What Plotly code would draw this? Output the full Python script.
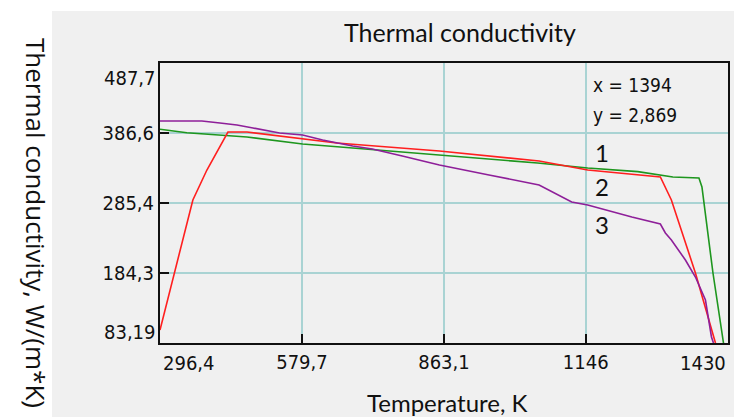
import plotly.graph_objects as go

# ---- data ----
temp_1 = [296.4, 350, 470, 581, 650, 855, 1050, 1150, 1250, 1320, 1372, 1378, 1400, 1421]
cond_1 = [392, 387, 380.8, 370.7, 366.8, 354.8, 343.2, 336, 330.7, 323, 321.6, 308.6, 184.3, 83.19]

temp_2 = [296.4, 362, 390, 432, 470, 535, 649, 854, 1053, 1150, 1295, 1317, 1365, 1405]
cond_2 = [102, 289.8, 333.1, 388, 388, 382.2, 372.1, 360.6, 346.1, 333.1, 323, 289.8, 184.3, 83.19]

temp_3 = [296.4, 380, 416, 450, 482, 535, 581, 621, 681, 720, 780, 854, 953, 1053, 1118, 1150,
          1238, 1295, 1305, 1317, 1345, 1365, 1385, 1397, 1401]
cond_3 = [403.9, 403.9, 401, 398.1, 393.8, 386.6, 383.7, 376.5, 367.8, 363.5, 353.3, 340.4, 325.9,
          311.5, 287, 282.6, 265.2, 255.1, 242.1, 232, 203.1, 178.5, 145.3, 91.9, 83.19]

x_ticks = [296.4, 579.7, 863.1, 1146, 1430]
x_tick_text = ["296,4", "579,7", "863,1", "1146", "1430"]
y_ticks = [83.19, 184.3, 285.4, 386.6, 487.7]
y_tick_text = ["83,19", "184,3", "285,4", "386,6", "487,7"]

series_labels = ["1", "2", "3"]
label_x = 1178
label_y = [359.1, 310, 255.1]

cursor_text = ["x = 1394", "y = 2,869"]

NARROW = "Liberation Sans Narrow, Arial Narrow, DejaVu Sans Condensed, sans-serif"
GRID = "#a9d3d3"
TICK_SIZE = 20

# plot area in page pixels
PX0, PX1, PY0, PY1 = 160, 728, 63, 343
W_PX, H_PX = PX1 - PX0, PY1 - PY0


def px(xp):
    return (xp - PX0) / W_PX


def py(yp):
    return (PY1 - yp) / H_PX


fig = go.Figure()
fig.add_trace(go.Scatter(x=temp_1, y=cond_1, mode="lines", line=dict(color="#1e961e", width=1.6), showlegend=False))
fig.add_trace(go.Scatter(x=temp_2, y=cond_2, mode="lines", line=dict(color="#ff1f1f", width=1.6), showlegend=False))
fig.add_trace(go.Scatter(x=temp_3, y=cond_3, mode="lines", line=dict(color="#8e1f99", width=1.6), showlegend=False))

tf = dict(family=NARROW, size=TICK_SIZE, color="#111")
ann = []
# x end labels
ann.append(dict(x=x_ticks[0], y=0, xref="x", yref="paper", text=x_tick_text[0], showarrow=False,
                xanchor="left", yanchor="top", xshift=1, yshift=-6, font=tf))
ann.append(dict(x=x_ticks[-1], y=0, xref="x", yref="paper", text=x_tick_text[-1], showarrow=False,
                xanchor="right", yanchor="top", xshift=0, yshift=-6, font=tf))
# y end labels
ann.append(dict(x=0, y=y_ticks[-1], xref="paper", yref="y", text=y_tick_text[-1], showarrow=False,
                xanchor="right", yanchor="middle", xshift=-2, yshift=-15, font=tf))
ann.append(dict(x=0, y=y_ticks[0], xref="paper", yref="y", text=y_tick_text[0], showarrow=False,
                xanchor="right", yanchor="middle", xshift=-2, yshift=11, font=tf))
# cursor readout
ann.append(dict(x=1156, y=455.9, xref="x", yref="y", text=cursor_text[0], showarrow=False,
                xanchor="left", yanchor="middle", font=dict(family=NARROW, size=19, color="#111")))
ann.append(dict(x=1156, y=412.6, xref="x", yref="y", text=cursor_text[1], showarrow=False,
                xanchor="left", yanchor="middle", font=dict(family=NARROW, size=19, color="#111")))
# series numbers
for t, yy in zip(series_labels, label_y):
    ann.append(dict(x=label_x, y=yy, xref="x", yref="y", text=t, showarrow=False,
                    xanchor="center", yanchor="middle", font=dict(family="Lato, sans-serif", size=24, color="#111")))
# axis titles
ann.append(dict(x=px(447), y=py(402), xref="paper", yref="paper", text="Temperature, K",
                showarrow=False, xanchor="center", yanchor="middle", font=dict(family="Lato, sans-serif", size=24, color="#111")))
ann.append(dict(x=px(36), y=py(223), xref="paper", yref="paper",
                text="Thermal conductivity, W/(m*K)", textangle=90, showarrow=False,
                xanchor="center", yanchor="middle", font=dict(family="Open Sans, sans-serif", size=26, color="#111")))
# title
ann.append(dict(x=px(460), y=py(32), xref="paper", yref="paper", text="Thermal conductivity",
                showarrow=False, xanchor="center", yanchor="middle", font=dict(family="Lato, sans-serif", size=25, color="#111")))

shapes = [
    dict(type="rect", xref="paper", yref="paper", x0=px(0), x1=px(740), y0=py(11), y1=py(0),
         fillcolor="white", line=dict(width=0), layer="below"),
    dict(type="rect", xref="paper", yref="paper", x0=px(0), x1=px(52), y0=py(420), y1=py(0),
         fillcolor="white", line=dict(width=0), layer="below"),
]

fig.update_layout(
    width=734, height=417,
    margin=dict(l=PX0, r=734 - PX1, t=PY0, b=417 - PY1, autoexpand=False),
    paper_bgcolor="#f0f0f0", plot_bgcolor="#f0f0f0",
    annotations=ann, shapes=shapes,
    showlegend=False,
)
fig.update_xaxes(range=[x_ticks[0], x_ticks[-1]], tickvals=x_ticks,
                 ticktext=[""] + x_tick_text[1:-1] + [""],
                 showgrid=True, gridcolor=GRID, gridwidth=2, zeroline=False,
                 showline=True, linecolor="#111", linewidth=2, mirror=True,
                 ticks="inside", ticklen=9, tickwidth=2, tickcolor="#111",
                 tickfont=tf, automargin=False)
fig.update_yaxes(range=[y_ticks[0], y_ticks[-1]], tickvals=y_ticks,
                 ticktext=[""] + y_tick_text[1:-1] + [""],
                 showgrid=True, gridcolor=GRID, gridwidth=2, zeroline=False,
                 showline=True, linecolor="#111", linewidth=2, mirror=True,
                 ticks="inside", ticklen=9, tickwidth=2, tickcolor="#111",
                 tickfont=tf, automargin=False)

fig.write_html("out.html", config={"displayModeBar": False},
               post_script="document.body.style.margin='0';document.body.style.overflow='hidden';")
